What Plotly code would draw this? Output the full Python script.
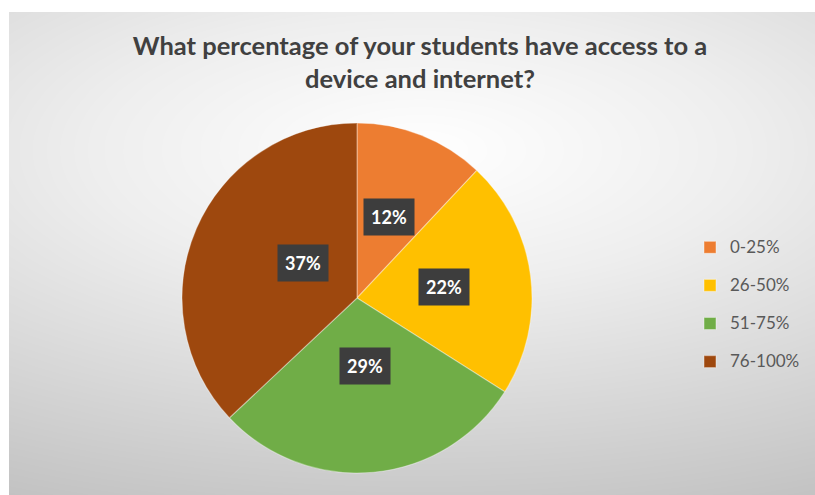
import numpy as np
import plotly.graph_objects as go

# ---- data ----
categories = ["0-25%", "26-50%", "51-75%", "76-100%"]
shares = [12, 22, 29, 37]
colors = ["#ED7D31", "#FFC000", "#70AD47", "#9E480E"]
title_text = "What percentage of your students have access to a<br>device and internet?"

# ---- layout geometry (pixels) ----
W, H = 815, 495
ML, MT, MR, MB = 9, 12, 0, 0
PW, PH = W - ML - MR, H - MT - MB
CX, CY, R = 357, 298, 175

def to_paper(px, py):
    return (px - ML) / PW, 1 - (py - MT) / PH

x0, y1 = to_paper(CX - R, CY - R)
x1, y0 = to_paper(CX + R, CY + R)

# background radial gradient (decorative)
gx = np.linspace(0, 1, 120)
gy = np.linspace(0, 1, 80)
GX, GY = np.meshgrid(gx, gy)
bx, by = to_paper(420, 150)
dist = np.sqrt(((GX - bx) * 1.0) ** 2 + ((GY - by) * 1.45) ** 2)
dist = np.clip(dist / dist.max(), 0, 1)

fig = go.Figure()
fig.add_trace(go.Heatmap(
    x=gx, y=gy, z=dist, zmin=0, zmax=1, zsmooth="best",
    colorscale=[[0, "#ffffff"], [0.35, "#eeeeee"], [1, "#c2c2c2"]],
    showscale=False, hoverinfo="skip", showlegend=False,
))

legend_labels = ["<span style='font-size:17px'>%s</span><br> " % c for c in categories]

fig.add_trace(go.Pie(
    labels=legend_labels,
    values=shares,
    sort=False,
    direction="clockwise",
    rotation=0,
    marker=dict(colors=colors, line=dict(color="rgba(255,255,255,0.35)", width=1.2)),
    textinfo="none",
    hoverinfo="percent",
    domain=dict(x=[x0, x1], y=[y0, y1]),
    showlegend=True,
))

# percentage labels with dark boxes, placed at each slice's mid angle
total = sum(shares)
annotations = []
cum = 0
for v in shares:
    mid = (cum + v / 2) / total * 2 * np.pi
    cum += v
    px = CX + 0.5 * R * np.sin(mid)
    py = CY - 0.5 * R * np.cos(mid)
    ax, ay = to_paper(px, py)
    annotations.append(dict(
        x=ax, y=ay, xref="paper", yref="paper", showarrow=False,
        text="<b>%d%%</b>" % round(v / total * 100),
        font=dict(family="Lato, Open Sans, sans-serif", size=18, color="#ffffff"),
        bgcolor="#3d3d3d", borderpad=7,
    ))

fig.update_layout(
    width=W, height=H,
    margin=dict(l=ML, r=MR, t=MT, b=MB),
    paper_bgcolor="#ffffff",
    plot_bgcolor="#ffffff",
    xaxis=dict(visible=False, range=[0, 1], domain=[0, 1], fixedrange=True),
    yaxis=dict(visible=False, range=[0, 1], domain=[0, 1], fixedrange=True),
    title=dict(
        text="<b>" + title_text + "</b>",
        x=(420 - ML) / PW, xref="paper", xanchor="center",
        y=1 - 55 / H, yref="container", yanchor="top",
        font=dict(family="Lato, Open Sans, sans-serif", size=25.5, color="#404040"),
    ),
    legend=dict(
        x=(690 - ML) / PW, y=to_paper(0, 232)[1], xanchor="left", yanchor="top",
        xref="paper", yref="paper",
        font=dict(family="Lato, Open Sans, sans-serif", size=13.5, color="#595959"),
        bgcolor="rgba(0,0,0,0)", valign="top", itemwidth=30,
    ),
    annotations=annotations,
)

fig.write_html("out.html")
